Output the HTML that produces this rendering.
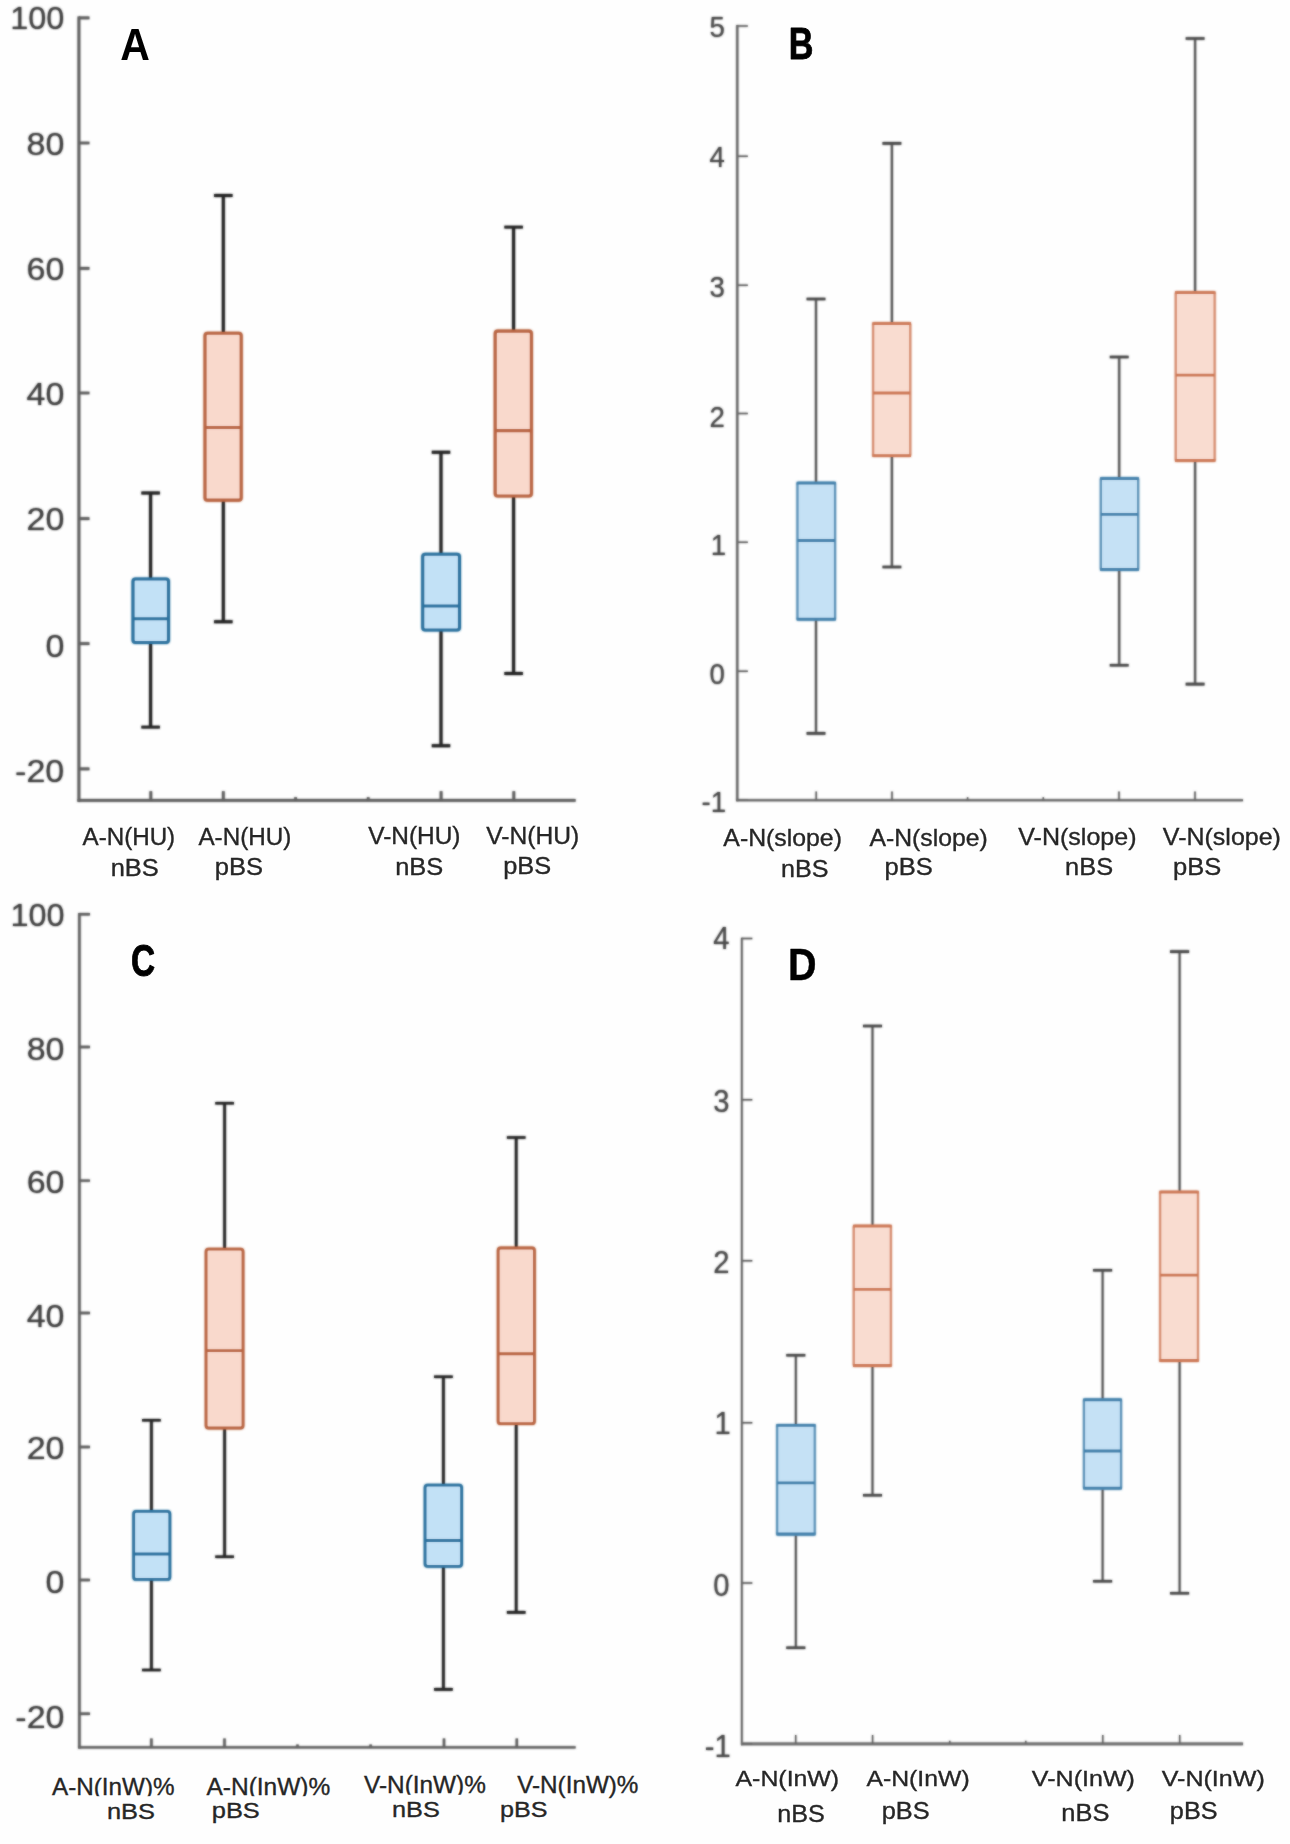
<!DOCTYPE html>
<html lang="en"><head><meta charset="utf-8"><title>Box plots A-D</title>
<style>html,body{margin:0;padding:0;background:#fff}body{width:1290px;height:1844px;overflow:hidden}svg{display:block;font-family:"Liberation Sans",sans-serif}</style>
</head><body>
<svg width="1290" height="1844" viewBox="0 0 1290 1844">
<defs><filter id="soft" x="0" y="0" width="1290" height="1844" filterUnits="userSpaceOnUse"><feGaussianBlur stdDeviation="0.8"/></filter></defs>
<rect width="1290" height="1844" fill="#fefefe"/>
<g filter="url(#soft)">
<g id="plots">
<g>
<path d="M78.9 16.55V801.65" fill="none" stroke="#5e5e5e" stroke-width="2.7"/>
<path d="M77.55 800.3H575.6" fill="none" stroke="#5e5e5e" stroke-width="2.7"/>
<text transform="matrix(1.020 0 0 1 64.3 29.3)" text-anchor="end" font-size="31.8" fill="#3e3e3e">100</text>
<text transform="matrix(1.070 0 0 1 64.3 155.3)" text-anchor="end" font-size="31.8" fill="#3e3e3e">80</text>
<text transform="matrix(1.070 0 0 1 64.3 280.4)" text-anchor="end" font-size="31.8" fill="#3e3e3e">60</text>
<text transform="matrix(1.070 0 0 1 64.3 405.2)" text-anchor="end" font-size="31.8" fill="#3e3e3e">40</text>
<text transform="matrix(1.070 0 0 1 64.3 530.2)" text-anchor="end" font-size="31.8" fill="#3e3e3e">20</text>
<text transform="matrix(1.070 0 0 1 64.3 656.8)" text-anchor="end" font-size="31.8" fill="#3e3e3e">0</text>
<text transform="matrix(1.070 0 0 1 64.3 781.7)" text-anchor="end" font-size="31.8" fill="#3e3e3e">-20</text>
<path d="M78.9 17.9h10.5M78.9 143h10.5M78.9 268.3h10.5M78.9 393h10.5M78.9 518.6h10.5M78.9 643.6h10.5M78.9 768.8h10.5M150.8 800.3v-9M223.3 800.3v-9M441.1 800.3v-9M513.8 800.3v-9M295.6 800.3v-3M368.2 800.3v-3" fill="none" stroke="#5e5e5e" stroke-width="2.7"/>
<path d="M150.6 493V580.5M150.6 640.9V727.1" fill="none" stroke="#222" stroke-width="2.9"/>
<path d="M141.4 493H159.8M141.4 727.1H159.8" fill="none" stroke="#222" stroke-width="2.9"/>
<rect x="133.05" y="578.95" width="35.4" height="63.5" rx="2.5" fill="#c2e1f6" stroke="#256f9d" stroke-width="3.1"/>
<path d="M133.05 618.8H168.45" fill="none" stroke="#256f9d" stroke-width="3.1"/>
<path d="M223.3 195.5V334.8M223.3 498.6V621.8" fill="none" stroke="#222" stroke-width="2.9"/>
<path d="M214.1 195.5H232.5M214.1 621.8H232.5" fill="none" stroke="#222" stroke-width="2.9"/>
<rect x="205.05" y="333.25" width="36.1" height="166.9" rx="2.5" fill="#f9d9cc" stroke="#b8623e" stroke-width="3.1"/>
<path d="M205.05 427.5H241.15" fill="none" stroke="#b8623e" stroke-width="3.1"/>
<path d="M441 452.2V555.8M441 628.5V745.8" fill="none" stroke="#222" stroke-width="2.9"/>
<path d="M431.8 452.2H450.2M431.8 745.8H450.2" fill="none" stroke="#222" stroke-width="2.9"/>
<rect x="422.75" y="554.25" width="36.7" height="75.8" rx="2.5" fill="#c2e1f6" stroke="#256f9d" stroke-width="3.1"/>
<path d="M422.75 606H459.45" fill="none" stroke="#256f9d" stroke-width="3.1"/>
<path d="M513.6 227.1V332.7M513.6 494.5V673.5" fill="none" stroke="#222" stroke-width="2.9"/>
<path d="M504.4 227.1H522.8M504.4 673.5H522.8" fill="none" stroke="#222" stroke-width="2.9"/>
<rect x="495.25" y="331.15" width="36.1" height="164.9" rx="2.5" fill="#f9d9cc" stroke="#b8623e" stroke-width="3.1"/>
<path d="M495.25 430.6H531.35" fill="none" stroke="#b8623e" stroke-width="3.1"/>
</g>
<g>
<path d="M737.3 24.95V801.25" fill="none" stroke="#626262" stroke-width="2.1"/>
<path d="M736.25 800.2H1243" fill="none" stroke="#626262" stroke-width="2.1"/>
<text transform="matrix(0.920 0 0 1 724.8 37.3)" text-anchor="end" font-size="30" fill="#464646">5</text>
<text transform="matrix(0.920 0 0 1 724.8 167.3)" text-anchor="end" font-size="30" fill="#464646">4</text>
<text transform="matrix(0.920 0 0 1 724.8 297)" text-anchor="end" font-size="30" fill="#464646">3</text>
<text transform="matrix(0.920 0 0 1 724.8 427)" text-anchor="end" font-size="30" fill="#464646">2</text>
<text transform="matrix(0.920 0 0 1 726.1 555.2)" text-anchor="end" font-size="30" fill="#464646">1</text>
<text transform="matrix(0.920 0 0 1 724.8 683.9)" text-anchor="end" font-size="30" fill="#464646">0</text>
<text transform="matrix(0.920 0 0 1 726.1 812.4)" text-anchor="end" font-size="30" fill="#464646">-1</text>
<path d="M737.3 26h10.5M737.3 156.2h10.5M737.3 285.2h10.5M737.3 413.6h10.5M737.3 542.2h10.5M737.3 671.2h10.5M737.3 800.2h10.5M816.2 800.2v-8.8M892 800.2v-8.8M1119 800.2v-8.8M1195 800.2v-8.8M967.6 800.2v-3M1043.3 800.2v-3" fill="none" stroke="#626262" stroke-width="1.5"/>
<path d="M816 299V484.5M816 617.8V733.4" fill="none" stroke="#585858" stroke-width="2.1"/>
<path d="M806.6 299H825.4M806.6 733.4H825.4" fill="none" stroke="#484848" stroke-width="2.6"/>
<rect x="797.5" y="482.8" width="37.5" height="136.7" rx="0.8" fill="#c5e1f5" stroke="#5a92b8" stroke-width="2.2"/>
<path d="M796.7 483.1H835.8M796.7 619.2H835.8M797.5 540.5H835" fill="none" stroke="#3f7faa" stroke-width="2.8"/>
<path d="M891.9 143.4V325.1M891.9 454.2V567" fill="none" stroke="#585858" stroke-width="2.1"/>
<path d="M882.5 143.4H901.3M882.5 567H901.3" fill="none" stroke="#484848" stroke-width="2.6"/>
<rect x="873.2" y="323.4" width="37" height="132.5" rx="0.8" fill="#f9dcd0" stroke="#d68c6e" stroke-width="2.2"/>
<path d="M872.4 323.7H911M872.4 455.6H911M873.2 393H910.2" fill="none" stroke="#cc7652" stroke-width="2.8"/>
<path d="M1119.2 357V480M1119.2 568V665.2" fill="none" stroke="#585858" stroke-width="2.1"/>
<path d="M1109.8 357H1128.6M1109.8 665.2H1128.6" fill="none" stroke="#484848" stroke-width="2.6"/>
<rect x="1100.9" y="478.3" width="37.2" height="91.4" rx="0.8" fill="#c5e1f5" stroke="#5a92b8" stroke-width="2.2"/>
<path d="M1100.1 478.6H1138.9M1100.1 569.4H1138.9M1100.9 514.4H1138.1" fill="none" stroke="#3f7faa" stroke-width="2.8"/>
<path d="M1195.1 38.5V294.1M1195.1 459V684.1" fill="none" stroke="#585858" stroke-width="2.1"/>
<path d="M1185.7 38.5H1204.5M1185.7 684.1H1204.5" fill="none" stroke="#484848" stroke-width="2.6"/>
<rect x="1175.8" y="292.4" width="38.8" height="168.3" rx="0.8" fill="#f9dcd0" stroke="#d68c6e" stroke-width="2.2"/>
<path d="M1175 292.7H1215.4M1175 460.4H1215.4M1175.8 375.2H1214.6" fill="none" stroke="#cc7652" stroke-width="2.8"/>
</g>
<g>
<path d="M79.4 913.1V1748.6" fill="none" stroke="#5e5e5e" stroke-width="2.4"/>
<path d="M78.2 1747.4H575.6" fill="none" stroke="#5e5e5e" stroke-width="2.4"/>
<text transform="matrix(1.020 0 0 1 64.5 926.2)" text-anchor="end" font-size="31.8" fill="#3e3e3e">100</text>
<text transform="matrix(1.070 0 0 1 64.5 1060.2)" text-anchor="end" font-size="31.8" fill="#3e3e3e">80</text>
<text transform="matrix(1.070 0 0 1 64.5 1193.2)" text-anchor="end" font-size="31.8" fill="#3e3e3e">60</text>
<text transform="matrix(1.070 0 0 1 64.5 1326.7)" text-anchor="end" font-size="31.8" fill="#3e3e3e">40</text>
<text transform="matrix(1.070 0 0 1 64.5 1458.7)" text-anchor="end" font-size="31.8" fill="#3e3e3e">20</text>
<text transform="matrix(1.070 0 0 1 64.5 1593.1)" text-anchor="end" font-size="31.8" fill="#3e3e3e">0</text>
<text transform="matrix(1.070 0 0 1 64.5 1728.3)" text-anchor="end" font-size="31.8" fill="#3e3e3e">-20</text>
<path d="M79.4 914.3h10.5M79.4 1047h10.5M79.4 1180.6h10.5M79.4 1313h10.5M79.4 1447h10.5M79.4 1580h10.5M79.4 1713.8h10.5M151.4 1747.4v-9M224.5 1747.4v-9M444 1747.4v-9M516.8 1747.4v-9M297.5 1747.4v-3M370.6 1747.4v-3" fill="none" stroke="#5e5e5e" stroke-width="2.4"/>
<path d="M151.4 1420.2V1512.8M151.4 1578V1670" fill="none" stroke="#222" stroke-width="2.6"/>
<path d="M142.1 1420.2H160.7M142.1 1670H160.7" fill="none" stroke="#222" stroke-width="2.6"/>
<rect x="133.7" y="1511.4" width="36.1" height="68" rx="2.5" fill="#c2e1f6" stroke="#256f9d" stroke-width="2.8"/>
<path d="M133.7 1554H169.8" fill="none" stroke="#256f9d" stroke-width="2.8"/>
<path d="M224.6 1103.2V1250.6M224.6 1426.6V1556.7" fill="none" stroke="#222" stroke-width="2.6"/>
<path d="M215.3 1103.2H233.9M215.3 1556.7H233.9" fill="none" stroke="#222" stroke-width="2.6"/>
<rect x="206.1" y="1249.2" width="36.9" height="178.8" rx="2.5" fill="#f9d9cc" stroke="#b8623e" stroke-width="2.8"/>
<path d="M206.1 1350.7H243" fill="none" stroke="#b8623e" stroke-width="2.8"/>
<path d="M443.4 1376.74V1486.56M443.4 1564.97V1689.37" fill="none" stroke="#222" stroke-width="2.6"/>
<path d="M434.1 1376.74H452.7M434.1 1689.37H452.7" fill="none" stroke="#222" stroke-width="2.6"/>
<rect x="425.1" y="1485.16" width="36.5" height="81.21" rx="2.5" fill="#c2e1f6" stroke="#256f9d" stroke-width="2.8"/>
<path d="M425.1 1540.51H461.6" fill="none" stroke="#256f9d" stroke-width="2.8"/>
<path d="M516.2 1137.5V1249.4M516.2 1422.28V1612.38" fill="none" stroke="#222" stroke-width="2.6"/>
<path d="M506.9 1137.5H525.5M506.9 1612.38H525.5" fill="none" stroke="#222" stroke-width="2.6"/>
<rect x="498.2" y="1248" width="36.2" height="175.68" rx="2.5" fill="#f9d9cc" stroke="#b8623e" stroke-width="2.8"/>
<path d="M498.2 1353.74H534.4" fill="none" stroke="#b8623e" stroke-width="2.8"/>
</g>
<g>
<path d="M741.8 937.65V1745.15" fill="none" stroke="#5e5e5e" stroke-width="1.7"/>
<path d="M740.95 1743.8H1243" fill="none" stroke="#6c6c6c" stroke-width="2.7"/>
<text transform="matrix(0.930 0 0 1 729.4 949.4)" text-anchor="end" font-size="31.4" fill="#464646">4</text>
<text transform="matrix(0.930 0 0 1 729.4 1111.8)" text-anchor="end" font-size="31.4" fill="#464646">3</text>
<text transform="matrix(0.930 0 0 1 729.4 1273.2)" text-anchor="end" font-size="31.4" fill="#464646">2</text>
<text transform="matrix(0.930 0 0 1 730.7 1434.2)" text-anchor="end" font-size="31.4" fill="#464646">1</text>
<text transform="matrix(0.930 0 0 1 729.4 1595.6)" text-anchor="end" font-size="31.4" fill="#464646">0</text>
<text transform="matrix(0.930 0 0 1 730.7 1757.1)" text-anchor="end" font-size="31.4" fill="#464646">-1</text>
<path d="M741.8 938.5h10.5M741.8 1099.8h10.5M741.8 1260.8h10.5M741.8 1422.7h10.5M741.8 1583h10.5M741.8 1743.8h10.5M795.7 1743.8v-8.8M872.6 1743.8v-8.8M1102.8 1743.8v-8.8M1179.7 1743.8v-8.8M949.8 1743.8v-3M1025.8 1743.8v-3" fill="none" stroke="#5e5e5e" stroke-width="1.4"/>
<path d="M795.8 1355.2V1426.7M795.8 1532.6V1647.7" fill="none" stroke="#4c4c4c" stroke-width="1.8"/>
<path d="M786.3 1355.2H805.3M786.3 1647.7H805.3" fill="none" stroke="#484848" stroke-width="2.6"/>
<rect x="777.2" y="1425" width="37.5" height="109.3" rx="0.8" fill="#c5e1f5" stroke="#5a92b8" stroke-width="2.2"/>
<path d="M776.4 1425.3H815.5M776.4 1534H815.5M777.2 1482.8H814.7" fill="none" stroke="#3f7faa" stroke-width="2.8"/>
<path d="M872.5 1026V1227.6M872.5 1364.1V1495.2" fill="none" stroke="#4c4c4c" stroke-width="1.8"/>
<path d="M863 1026H882M863 1495.2H882" fill="none" stroke="#484848" stroke-width="2.6"/>
<rect x="853.8" y="1225.9" width="37" height="139.9" rx="0.8" fill="#f9dcd0" stroke="#d68c6e" stroke-width="2.2"/>
<path d="M853 1226.2H891.6M853 1365.5H891.6M853.8 1289.3H890.8" fill="none" stroke="#cc7652" stroke-width="2.8"/>
<path d="M1102.6 1270.2V1401.2M1102.6 1486.7V1581.2" fill="none" stroke="#4c4c4c" stroke-width="1.8"/>
<path d="M1093.1 1270.2H1112.1M1093.1 1581.2H1112.1" fill="none" stroke="#484848" stroke-width="2.6"/>
<rect x="1084" y="1399.5" width="37" height="88.9" rx="0.8" fill="#c5e1f5" stroke="#5a92b8" stroke-width="2.2"/>
<path d="M1083.2 1399.8H1121.8M1083.2 1488.1H1121.8M1084 1451H1121" fill="none" stroke="#3f7faa" stroke-width="2.8"/>
<path d="M1179.6 951.6V1193.6M1179.6 1359.1V1593.3" fill="none" stroke="#4c4c4c" stroke-width="1.8"/>
<path d="M1170.1 951.6H1189.1M1170.1 1593.3H1189.1" fill="none" stroke="#484848" stroke-width="2.6"/>
<rect x="1160.2" y="1191.9" width="37.7" height="168.9" rx="0.8" fill="#f9dcd0" stroke="#d68c6e" stroke-width="2.2"/>
<path d="M1159.4 1192.2H1198.7M1159.4 1360.5H1198.7M1160.2 1275.2H1197.9" fill="none" stroke="#cc7652" stroke-width="2.8"/>
</g>
</g>
</g>
<use href="#plots" opacity="0.5"/>
<g id="labels">
<text transform="matrix(1.0378 0 0 1 82.54 844.6)" font-size="23.3" fill="#262626" stroke="#262626" stroke-width="0.35">A-N(HU)</text>
<text transform="matrix(1.0929 0 0 1 110.68 875.8)" font-size="23.3" fill="#262626" stroke="#262626" stroke-width="0.35">nBS</text>
<text transform="matrix(1.0401 0 0 1 198.44 844.6)" font-size="23.3" fill="#262626" stroke="#262626" stroke-width="0.35">A-N(HU)</text>
<text transform="matrix(1.0962 0 0 1 214.74 875.3)" font-size="23.3" fill="#262626" stroke="#262626" stroke-width="0.35">pBS</text>
<text transform="matrix(1.0481 0 0 1 368.28 844.2)" font-size="23.3" fill="#262626" stroke="#262626" stroke-width="0.35">V-N(HU)</text>
<text transform="matrix(1.0929 0 0 1 395.18 874.8)" font-size="23.3" fill="#262626" stroke="#262626" stroke-width="0.35">nBS</text>
<text transform="matrix(1.0562 0 0 1 486.18 844.2)" font-size="23.3" fill="#262626" stroke="#262626" stroke-width="0.35">V-N(HU)</text>
<text transform="matrix(1.0890 0 0 1 503.25 874.3)" font-size="23.3" fill="#262626" stroke="#262626" stroke-width="0.35">pBS</text>
<text transform="matrix(0.9371 0 0 1 120.17 59.5)" font-size="43.8" font-weight="bold" fill="#000">A</text>
<text transform="matrix(1.0656 0 0 1 723.34 846.3)" font-size="23.3" fill="#262626" stroke="#262626" stroke-width="0.35">A-N(slope)</text>
<text transform="matrix(1.0784 0 0 1 781.1 877)" font-size="23.3" fill="#262626" stroke="#262626" stroke-width="0.35">nBS</text>
<text transform="matrix(1.0610 0 0 1 869.54 846)" font-size="23.3" fill="#262626" stroke="#262626" stroke-width="0.35">A-N(slope)</text>
<text transform="matrix(1.0962 0 0 1 884.54 875.4)" font-size="23.3" fill="#262626" stroke="#262626" stroke-width="0.35">pBS</text>
<text transform="matrix(1.0750 0 0 1 1018.27 845)" font-size="23.3" fill="#262626" stroke="#262626" stroke-width="0.35">V-N(slope)</text>
<text transform="matrix(1.0905 0 0 1 1065.08 875.4)" font-size="23.3" fill="#262626" stroke="#262626" stroke-width="0.35">nBS</text>
<text transform="matrix(1.0732 0 0 1 1162.87 845)" font-size="23.3" fill="#262626" stroke="#262626" stroke-width="0.35">V-N(slope)</text>
<text transform="matrix(1.0962 0 0 1 1173.04 875.4)" font-size="23.3" fill="#262626" stroke="#262626" stroke-width="0.35">pBS</text>
<text transform="matrix(0.7734 0 0 1 788.63 59.37)" font-size="44.16" font-weight="bold" fill="#000" stroke="#000" stroke-width="0.87" stroke-linejoin="round">B</text>
<text transform="matrix(1.0103 0 0 1 52.04 1794.5)" font-size="24" fill="#262626" stroke="#262626" stroke-width="0.35">A-N(InW)%</text>
<text transform="matrix(1.1144 0 0 1 106.98 1819.4)" font-size="22.8" fill="#262626" stroke="#262626" stroke-width="0.35">nBS</text>
<text transform="matrix(1.0211 0 0 1 206.44 1794.5)" font-size="24" fill="#262626" stroke="#262626" stroke-width="0.35">A-N(InW)%</text>
<text transform="matrix(1.1153 0 0 1 211.75 1817.7)" font-size="22.8" fill="#262626" stroke="#262626" stroke-width="0.35">pBS</text>
<text transform="matrix(1.0503 0 0 1 364.08 1793)" font-size="23.2" fill="#262626" stroke="#262626" stroke-width="0.35">V-N(InW)%</text>
<text transform="matrix(1.1095 0 0 1 391.99 1817.4)" font-size="22.8" fill="#262626" stroke="#262626" stroke-width="0.35">nBS</text>
<text transform="matrix(1.0460 0 0 1 517.18 1793)" font-size="23.2" fill="#262626" stroke="#262626" stroke-width="0.35">V-N(InW)%</text>
<text transform="matrix(1.1030 0 0 1 499.97 1817.3)" font-size="22.8" fill="#262626" stroke="#262626" stroke-width="0.35">pBS</text>
<rect x="40" y="1796.2" width="300" height="5" fill="#fefefe"/>
<rect x="350" y="1794.8" width="145" height="5.4" fill="#fefefe"/>
<text transform="matrix(0.7540 0 0 1 131.04 976.13)" font-size="44.25" font-weight="bold" fill="#000" stroke="#000" stroke-width="0.95" stroke-linejoin="round">C</text>
<text transform="matrix(1.1008 0 0 1 735.54 1786.2)" font-size="22.6" fill="#262626" stroke="#262626" stroke-width="0.35">A-N(InW)</text>
<text transform="matrix(1.0808 0 0 1 777.3 1821.6)" font-size="23.3" fill="#262626" stroke="#262626" stroke-width="0.35">nBS</text>
<text transform="matrix(1.0965 0 0 1 866.44 1786.2)" font-size="22.6" fill="#262626" stroke="#262626" stroke-width="0.35">A-N(InW)</text>
<text transform="matrix(1.0890 0 0 1 881.65 1819.4)" font-size="23.3" fill="#262626" stroke="#262626" stroke-width="0.35">pBS</text>
<text transform="matrix(1.1088 0 0 1 1031.87 1786.2)" font-size="22.6" fill="#262626" stroke="#262626" stroke-width="0.35">V-N(InW)</text>
<text transform="matrix(1.0929 0 0 1 1061.28 1820.6)" font-size="23.3" fill="#262626" stroke="#262626" stroke-width="0.35">nBS</text>
<text transform="matrix(1.1110 0 0 1 1161.67 1786.2)" font-size="22.6" fill="#262626" stroke="#262626" stroke-width="0.35">V-N(InW)</text>
<text transform="matrix(1.0841 0 0 1 1169.86 1819.4)" font-size="23.3" fill="#262626" stroke="#262626" stroke-width="0.35">pBS</text>
<text transform="matrix(0.8725 0 0 1 788.08 979.55)" font-size="45.3" font-weight="bold" fill="#000" stroke="#000" stroke-width="0.49" stroke-linejoin="round">D</text>
</g>
</svg></body></html>
